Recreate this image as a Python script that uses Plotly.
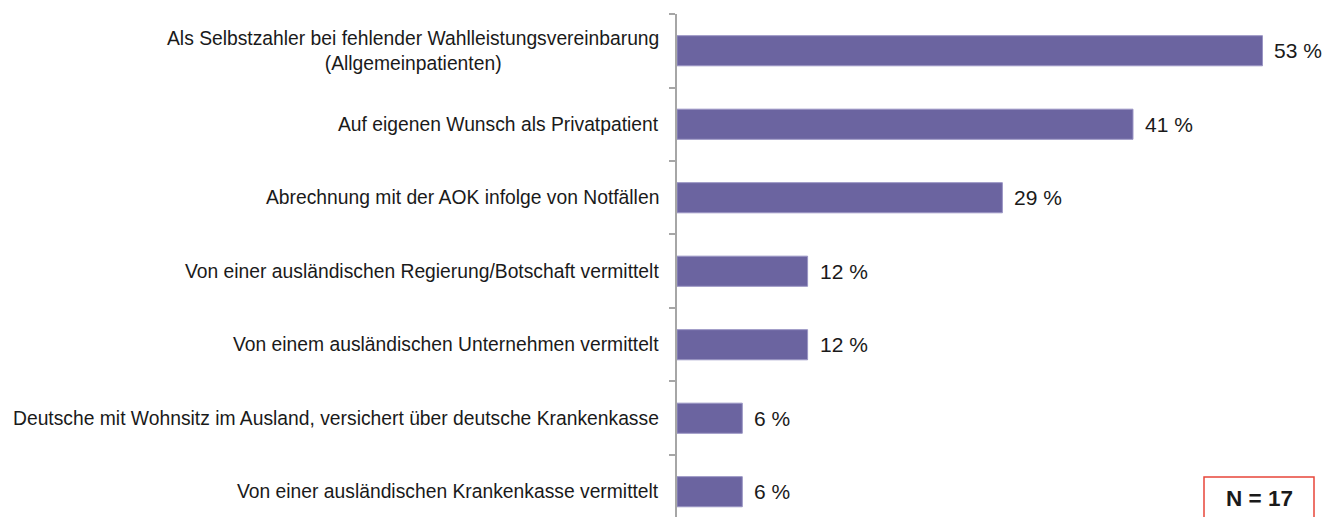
import plotly.graph_objects as go

categories = [
    "Als Selbstzahler bei fehlender Wahlleistungsvereinbarung<br>(Allgemeinpatienten)",
    "Auf eigenen Wunsch als Privatpatient",
    "Abrechnung mit der AOK infolge von Notfällen",
    "Von einer ausländischen Regierung/Botschaft vermittelt",
    "Von einem ausländischen Unternehmen vermittelt",
    "Deutsche mit Wohnsitz im Ausland, versichert über deutsche Krankenkasse",
    "Von einer ausländischen Krankenkasse vermittelt",
]
values = [52.9, 41.2, 29.4, 11.8, 11.8, 5.9, 5.9]
value_labels = ["53 %", "41 %", "29 %", "12 %", "12 %", "6 %", "6 %"]
n_label = "N = 17"

FONT = "Liberation Sans, Arial, sans-serif"
# page body has an 8px margin; compensate
W, H = 1322, 509
ML, MR, MT, MB = 669, 0, 6, 0
pw = W - ML - MR
ph = H - MT - MB

fig = go.Figure()
fig.add_trace(go.Bar(
    y=categories, x=values, orientation="h",
    marker=dict(color="#6B64A0", line=dict(color="#9A95C4", width=1)),
    width=0.41,
    hoverinfo="skip",
))

for c, v, t in zip(categories, values, value_labels):
    fig.add_annotation(
        x=-16 / pw, xref="paper", xanchor="right",
        y=c, yref="y", yanchor="middle",
        text=c, showarrow=False, align="center",
        font=dict(family=FONT, size=19.3, color="#1a1a1a"),
    )
    fig.add_annotation(
        x=v, xref="x", xanchor="left", xshift=10,
        y=c, yref="y", yanchor="middle",
        text=t, showarrow=False,
        font=dict(family=FONT, size=21, color="#1a1a1a"),
    )

# N box (in pixel-derived paper coords)
def px_x(p):
    return (p - 8 - ML) / pw

def px_y(p):
    return (H + 8 - p) / ph

fig.add_shape(type="rect", xref="paper", yref="paper",
              x0=px_x(1204), x1=px_x(1314),
              y0=px_y(530), y1=px_y(477),
              line=dict(color="#E8463A", width=1.5), layer="above")
fig.add_annotation(x=px_x(1259.5), xref="paper", xanchor="center",
                   y=px_y(498), yref="paper", yanchor="middle",
                   text="<b>" + n_label + "</b>", showarrow=False,
                   font=dict(family=FONT, size=22.5, color="#1a1a1a"))

fig.update_layout(
    width=W, height=H,
    margin=dict(l=ML, r=MR, t=MT, b=MB, pad=0),
    plot_bgcolor="white", paper_bgcolor="white",
    showlegend=False,
    xaxis=dict(range=[0, 59], visible=False, fixedrange=True),
    yaxis=dict(
        type="category", categoryorder="array", categoryarray=categories,
        range=[6.344, -0.5], showticklabels=False,
        showline=True, linecolor="#A6A6A6", linewidth=1.5,
        ticks="outside", tickson="boundaries", ticklen=6, tickcolor="#A6A6A6", tickwidth=1.5,
        showgrid=False, zeroline=False, fixedrange=True,
    ),
)

fig.write_html("out.html")
